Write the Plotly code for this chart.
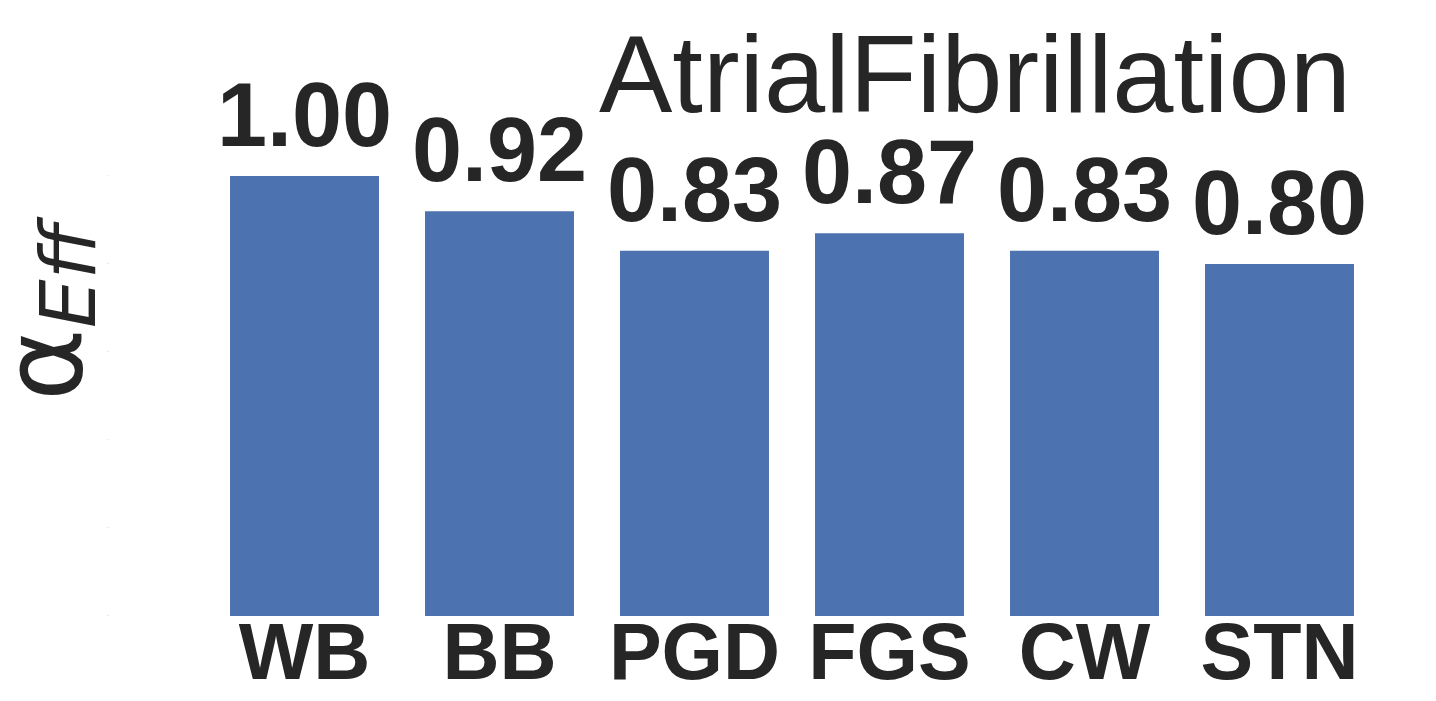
import plotly.graph_objects as go

categories = ["WB", "BB", "PGD", "FGS", "CW", "STN"]
values = [1.00, 0.92, 0.83, 0.87, 0.83, 0.80]
ytick_vals = [0.0, 0.2, 0.4, 0.6, 0.8, 1.0]
title_text = "AtrialFibrillation"

BAR_COLOR = "#4C72B0"
TEXT_COLOR = "#262626"

OFF = 8  # page body margin
W, H = 1436 - OFF, 701 - OFF
L, R, T = 199, 59, 80
ph = 528
B = H - T - ph
pw = W - L - R


def px_x(page_x):
    return (page_x - OFF - L) / pw


def px_y(page_y):
    return (T + ph - (page_y - OFF)) / ph


fig = go.Figure()
fig.add_trace(go.Bar(
    x=categories, y=values,
    marker=dict(color=BAR_COLOR, line=dict(width=0)),
    cliponaxis=False,
    hoverinfo="skip",
))

annotations = []
for c, v in zip(categories, values):
    annotations.append(dict(
        x=c, y=v, xref="x", yref="y", text=f"{v:.2f}",
        xanchor="center", yanchor="bottom", yshift=9, showarrow=False,
        font=dict(family="Liberation Sans", size=90, color=TEXT_COLOR, weight="bold"),
    ))

annotations += [
    dict(
        text=title_text, xref="paper", yref="paper",
        x=px_x(975), y=px_y(73),
        xanchor="center", yanchor="middle", showarrow=False,
        font=dict(family="Liberation Sans", size=110, color=TEXT_COLOR),
    ),
    dict(
        text="α", xref="paper", yref="paper",
        x=px_x(43), y=px_y(365),
        xanchor="center", yanchor="middle", showarrow=False, textangle=-90,
        font=dict(family="DejaVu Sans", size=110, color=TEXT_COLOR),
    ),
    dict(
        text="<i>Eff</i>", xref="paper", yref="paper",
        x=px_x(68), y=px_y(272),
        xanchor="center", yanchor="middle", showarrow=False, textangle=-90,
        font=dict(family="DejaVu Sans", size=77, color=TEXT_COLOR),
    ),
]

fig.update_layout(
    width=W, height=H,
    margin=dict(l=L, r=R, t=T, b=B, pad=0, autoexpand=False),
    paper_bgcolor="white", plot_bgcolor="white",
    bargap=0.236,
    showlegend=False,
    xaxis=dict(
        showgrid=False, zeroline=False, showline=False, ticks="",
        automargin=False,
        tickfont=dict(family="Liberation Sans", size=79, color=TEXT_COLOR, weight="bold"),
        ticklabelstandoff=-17,
        range=[-0.5, 5.5],
    ),
    yaxis=dict(
        range=[0, 1.2], showgrid=False, zeroline=False, showline=False, ticks="",
        automargin=False,
        tickvals=ytick_vals, ticktext=["0.0", "0.2", "0.4", "0.6", "0.8", "1.0"],
        tickfont=dict(size=1, color="#999999"),
        ticklabelstandoff=97,
    ),
    annotations=annotations,
)

fig.write_html("out.html")
